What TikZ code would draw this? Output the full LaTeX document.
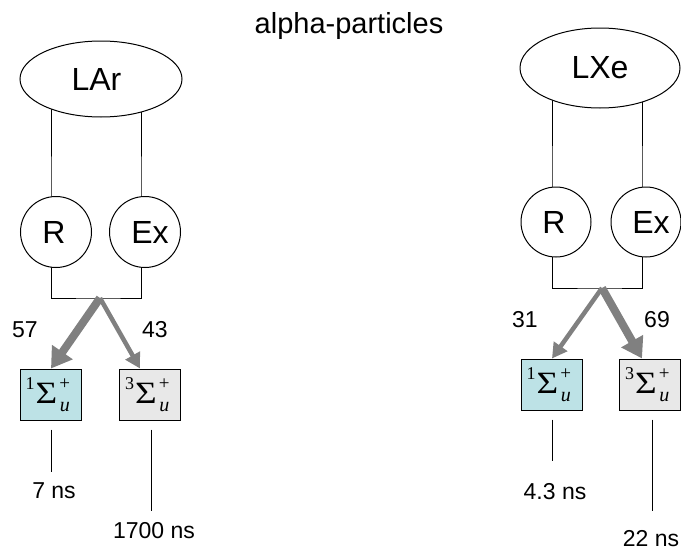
\documentclass[tikz,border=0pt]{standalone}
\usepackage{fontspec}
\setmainfont{Liberation Sans}
\newfontfamily\tms{Liberation Serif}
\usetikzlibrary{shapes.geometric,arrows.meta,backgrounds,calc}
\definecolor{singc}{RGB}{189,226,230}
\definecolor{tripc}{RGB}{232,232,232}
\definecolor{arrc}{RGB}{128,128,128}
\newcommand\stterm[1]{\tms\raisebox{14pt}{\fontsize{18}{18}\selectfont #1}\kern1pt\scalebox{1.2}[1]{\fontsize{31}{31}\selectfont Σ}\kern1pt\rlap{\makebox[13pt]{\raisebox{14pt}{\fontsize{19}{19}\selectfont +}}}\makebox[13pt]{\raisebox{-8pt}{\fontsize{20}{20}\selectfont\itshape u}}\kern4pt}
\begin{document}
\begin{tikzpicture}[x=1pt,y=-1pt,
 conn/.style={line width=1pt},
 src/.style={ellipse,draw,fill=white,line width=1pt,inner sep=0pt,font=\fontsize{32}{32}\selectfont},
 stt/.style={circle,draw,fill=white,line width=1pt,inner sep=0pt,minimum size=71pt,font=\fontsize{32}{32}\selectfont},
 lvl/.style={draw,line width=1pt,inner sep=0pt,minimum width=61pt,minimum height=51pt,text height=28pt,text depth=11pt},
 num/.style={font=\fontsize{23}{23}\selectfont,inner sep=0pt},
 thickarr/.style={draw=arrc,line width=8pt,-{Triangle[length=20pt,width=24pt]}},
 thinarr/.style={draw=arrc,line width=4.5pt,-{Triangle[length=15pt,width=16pt]}}]
\useasboundingbox (0,0) rectangle (681,552);
\node[anchor=base,font=\fontsize{29}{29}\selectfont] (title) at (349,33) {alpha-particles};
% left: LAr
\node[src,minimum width=162pt,minimum height=76pt] (lar) at (101,79) {LAr\kern9pt};
\node[stt] (lr) at (56,232) {R\kern4pt};
\node[stt] (lex) at (145,232) {\kern10pt Ex};
\node[lvl,fill=singc] (ls) at (50.5,394.5) {\stterm{1}};
\node[lvl,fill=tripc] (lt) at (150,394.5) {\stterm{3}};
\coordinate (lsplit) at (100,298);
\node[num] (l57) at (25,330) {57};
\node[num] (l43) at (155,330) {43};
\node[num] (l7) at (54,491) {7 ns};
\node[num] (l1700) at (154,531) {1700 ns};
% right: LXe
\node[src,minimum width=160pt,minimum height=80pt] (lxe) at (600,68) {LXe};
\node[stt,minimum size=70pt] (rr) at (556,222) {R\kern4pt};
\node[stt,minimum size=70pt] (rex) at (646,222) {\kern10pt Ex};
\node[lvl,fill=singc] (rs) at (551.5,384.5) {\stterm{1}};
\node[lvl,fill=tripc] (rt) at (650,384.5) {\stterm{3}};
\coordinate (rsplit) at (602,288);
\node[num] (r31) at (525,320) {31};
\node[num] (r69) at (657,320) {69};
\node[num] (r43) at (555,492) {4.3 ns};
\node[num] (r22) at (651,539) {22 ns};
\begin{scope}[on background layer]
\draw[conn] ($(lar.center)+(-50,0)$) -- ($(lr.center)+(-5,0)$) |- (lsplit) -| ($(lex.center)+(-4,0)$) -- ($(lar.center)+(40,0)$);
\draw[conn] ($(lxe.center)+(-48,0)$) -- ($(rr.center)+(-4,0)$) |- (rsplit) -| ($(rex.center)+(-4,0)$) -- ($(lxe.center)+(42,0)$);
\end{scope}
\draw[thickarr] (lsplit) -- ($(ls.north)+(0.5,0)$);
\draw[thinarr] (lsplit) -- ($(lt.north)+(-10,0)$);
\draw[thinarr] (rsplit) -- ($(rs.north)+(0.5,0)$);
\draw[thickarr] (rsplit) -- ($(rt.north)+(-8,0)$);
\draw[conn] ($(ls.south)+(0.5,9)$) -- ++(0,42);
\draw[conn] ($(lt.south)+(1,9)$) -- ++(0,81);
\draw[conn] ($(rs.south)+(0.5,9)$) -- ++(0,41);
\draw[conn] ($(rt.south)+(2,9)$) -- ++(0,91);
\end{tikzpicture}
\end{document}
